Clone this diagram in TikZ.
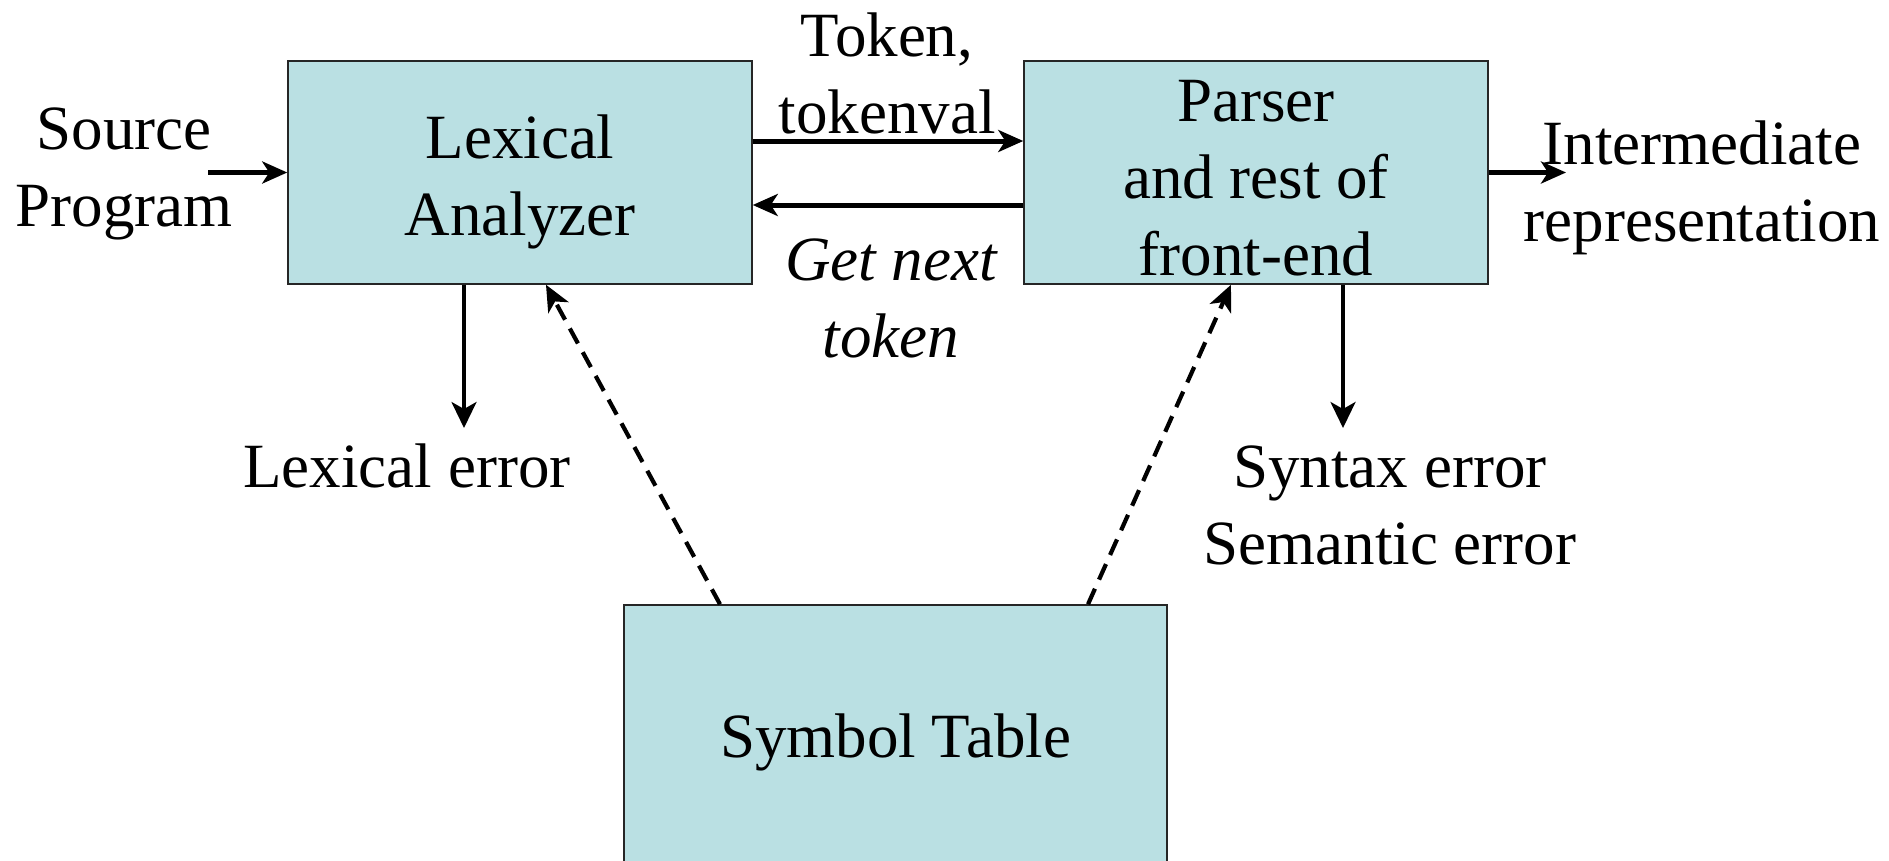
\documentclass[tikz,border=0pt]{standalone}
\usepackage{fontspec}
\setmainfont{Liberation Serif}
\usetikzlibrary{arrows.meta,calc}
\definecolor{boxfill}{HTML}{BAE0E3}
\begin{document}
\begin{tikzpicture}[x=1pt,y=-1pt,
  every node/.style={font=\fontsize{63}{77}\selectfont, inner sep=0pt, align=center},
  block/.style={draw=black!85, line width=1.5pt, fill=boxfill},
  arr/.style={-{Stealth[length=25pt,width=22pt,inset=7pt]}, line width=5pt},
  darr/.style={-{Stealth[length=26pt,width=25pt,inset=7pt]}, line width=3.5pt},
  dasharr/.style={-{Stealth[length=26pt,width=23pt,inset=7pt]}, line width=4.2pt, dash pattern=on 17pt off 10pt}]
\useasboundingbox (0,0) rectangle (1889,860);
\node[block, minimum width=464pt, minimum height=223pt] (lex) at (520,172.5) {};
\node[block, minimum width=464pt, minimum height=223pt] (par) at (1256,172.5) {};
\node[block, minimum width=543pt, minimum height=262pt] (st) at (895.5,736) {};
\node (lexlbl) at ($(lex.center)+(0,9)$) {Lexical\\Analyzer};
\node (parlbl) at ($(par.center)+(0,6)$) {Parser\\and rest of\\front-end};
\node (stlbl) at ($(st.center)+(0,6)$) {Symbol Table};
\node (src) at (124,174) {Source\\Program};
\node (tok) at (887,73) {Token,\\tokenval};
\node (gnt) at (891,298) {\itshape Get next\\\itshape token};
\node (ir) at (1702,188) {Intermediate\\representation};
\node (lexerr) at (407,466) {Lexical error};
\node (synerr) at (1390,505) {Syntax error\\Semantic error};
\coordinate (srcend) at (208,172.5);
\coordinate (irend) at (1566,172.5);
\coordinate (lexerrtip) at (464,428);
\coordinate (synerrtip) at (1343,428);
\draw[arr] (srcend) -- (lex.west);
\draw[arr] (par.east) -- (irend);
\draw[arr] (lex.east |- 0,141) -- (par.west |- 0,141);
\draw[arr] (par.west |- 0,205) -- (lex.east |- 0,205);
\draw[darr] (lex.south -| lexerrtip) -- (lexerrtip);
\draw[darr] (par.south -| synerrtip) -- (synerrtip);
\draw[dasharr] (st.north -| 720,0) -- (lex.south -| 546,0);
\draw[dasharr] (st.north -| 1088,0) -- (par.south -| 1231,0);
\end{tikzpicture}
\end{document}
